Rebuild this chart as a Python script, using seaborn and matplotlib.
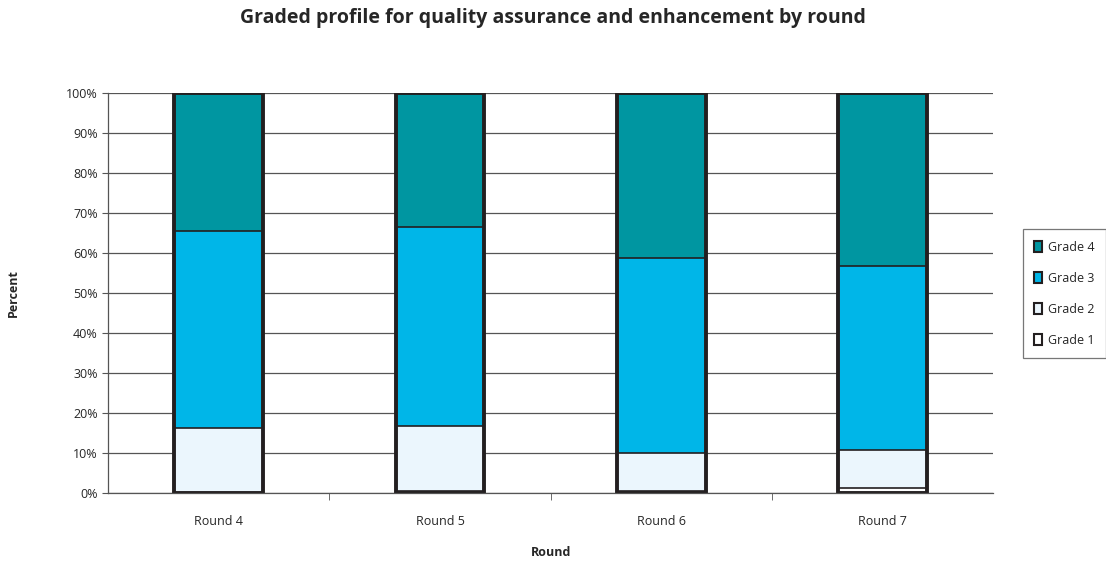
import numpy as np
import pandas as pd
import matplotlib
matplotlib.use('Agg')
import matplotlib.pyplot as plt
import seaborn as sns
from matplotlib.patches import Patch

sns.set_style("white")
plt.rcParams['font.family'] = ['Open Sans', 'DejaVu Sans']

# Data (percent of reviews per grade)
rounds = ['Round 4', 'Round 5', 'Round 6', 'Round 7']
grade1 = [0.0, 0.6, 0.6, 1.2]
grade2 = [16.2, 16.1, 9.4, 9.5]
grade3 = [49.3, 49.9, 48.7, 46.0]
grade4 = [34.5, 33.4, 41.3, 43.3]

grades = ['Grade 1', 'Grade 2', 'Grade 3', 'Grade 4']
colors = ['#ffffff', '#ebf6fd', '#00b6e8', '#0096a1']

df = pd.DataFrame({'Round': rounds, 'Grade 1': grade1, 'Grade 2': grade2,
                   'Grade 3': grade3, 'Grade 4': grade4})
cum = df[grades].cumsum(axis=1)
cum = cum.div(cum['Grade 4'], axis=0) * 100

fig = plt.figure(figsize=(11.06, 5.63), dpi=100)
ax = fig.add_axes([0.0977, 0.1243, 0.8003, 0.7107])

edge = '#231f20'
# draw from the top layer down so lower layers cover upper ones
for g, c in zip(grades[::-1], colors[::-1]):
    sns.barplot(x=df['Round'], y=cum[g], color=c, width=0.4,
                edgecolor=edge, linewidth=1.2, saturation=1, ax=ax)
# thick outline around each full bar
sns.barplot(x=df['Round'], y=cum['Grade 4'], fill=False, width=0.4,
            edgecolor=edge, linewidth=2.8, ax=ax)

ax.set_ylim(0, 100)
ax.set_xlim(-0.5, 3.5)
ax.set_yticks(np.arange(0, 101, 10))
ax.set_yticklabels([f'{v}%' for v in range(0, 101, 10)], fontsize=9)
ax.yaxis.grid(True, color='#555555', linewidth=0.9)
ax.set_axisbelow(True)
ax.tick_params(axis='y', length=4, color='#555555', left=True)

ax.set_xticks(range(len(rounds)))
ax.set_xticklabels(rounds, fontsize=9)
ax.set_xticks([0.5, 1.5, 2.5], minor=True)
ax.tick_params(axis='x', which='major', length=0, pad=16)
ax.tick_params(axis='x', which='minor', length=5, color='#555555', bottom=True)

for s in ['top', 'right']:
    ax.spines[s].set_visible(False)
for s in ['left', 'bottom']:
    ax.spines[s].set_color('#555555')
    ax.spines[s].set_linewidth(0.9)
ax.spines['bottom'].set_zorder(5)

ax.set_xlabel('Round', fontsize=9, fontweight='bold', labelpad=13)
ax.set_ylabel('Percent', fontsize=9, fontweight='bold', labelpad=33)

fig.suptitle('Graded profile for quality assurance and enhancement by round',
             fontsize=14, fontweight='bold', y=0.985)

handles = [Patch(facecolor=c, edgecolor=edge, linewidth=1.5, label=g)
           for g, c in zip(grades, colors)][::-1]
leg = fig.legend(handles=handles, loc='center left', bbox_to_anchor=(0.925, 0.478),
                 borderaxespad=0, frameon=True, fancybox=False, fontsize=9,
                 handlelength=0.6, handleheight=1.0, labelspacing=1.45,
                 borderpad=0.9, handletextpad=0.5)
leg.get_frame().set_edgecolor('#555555')
leg.get_frame().set_linewidth(0.9)

fig.savefig('out.png', dpi=100)
